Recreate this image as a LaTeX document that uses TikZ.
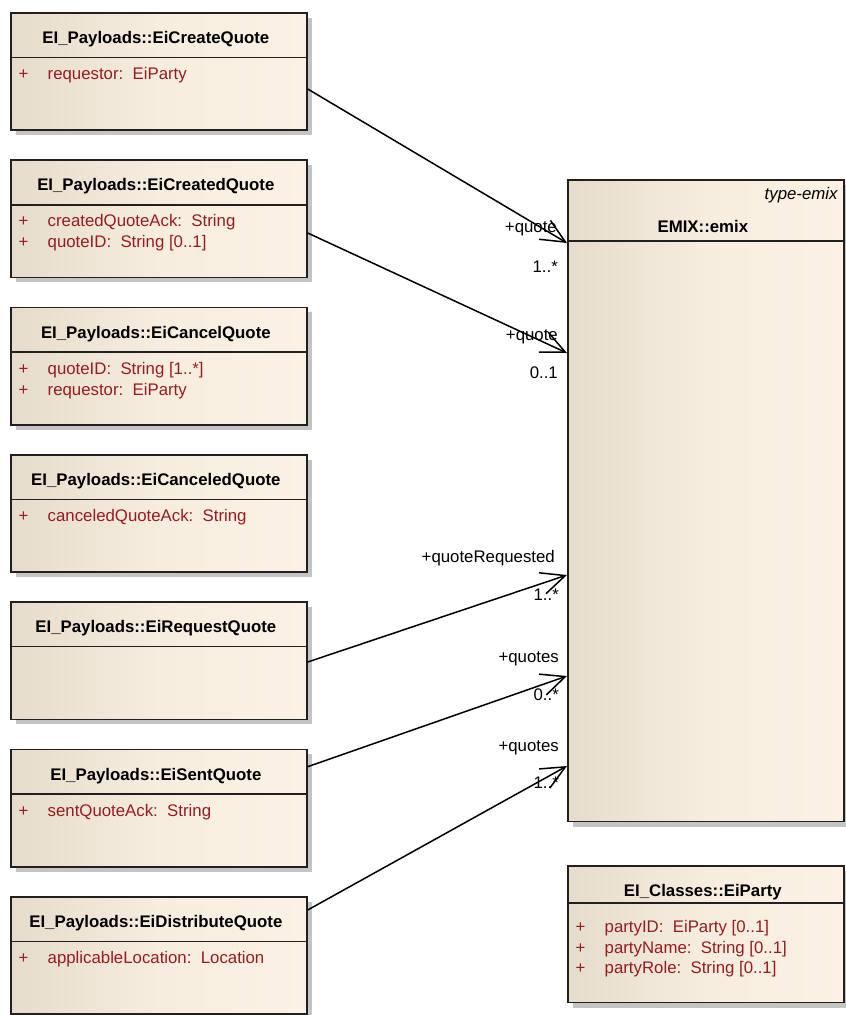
\documentclass[tikz,border=0pt]{standalone}
\usepackage{fontspec}
\setmainfont{Liberation Sans}
\usetikzlibrary{arrows.meta,shadows}

\definecolor{attrred}{HTML}{961C1F}
\definecolor{fillL}{HTML}{E6DCCB}
\definecolor{fillM}{HTML}{F7EDDF}
\definecolor{fillR}{HTML}{FBF1E4}
\definecolor{edgecol}{HTML}{202020}
\definecolor{shadowcol}{HTML}{C4C4C4}

% header rule and centred bold title of a class box
\newcommand\classhead[3]{%
  \draw[seprule] ([yshift=-#2pt]#1.north west) -- ([yshift=-#2pt]#1.north east);
  \node[titletext] (#1-title) at ([xshift=-3pt,yshift=-31.5pt]#1.north) {#3};}
% one attribute row: box name, row id, baseline offset from the top, text
\newcommand\classattr[4]{%
  \node[plusmark] (#1-p#2) at ([xshift=8.5pt,yshift=-#3pt]#1.north west) {+};
  \node[attrtext] (#1-a#2) at ([xshift=37.5pt,yshift=-#3pt]#1.north west) {#4};}

\begin{document}
\begin{tikzpicture}[x=1pt,y=-1pt,
  classbox/.style={rectangle, draw=edgecol, line width=1.7pt, inner sep=0pt,
    anchor=north west, left color=fillL, right color=fillR, middle color=fillM,
    drop shadow={shadow xshift=5pt, shadow yshift=-5pt, fill=shadowcol, opacity=1}},
  leftbox/.style={classbox, minimum width=296pt, minimum height=117.3pt},
  seprule/.style={draw=edgecol, line width=1.5pt},
  titletext/.style={font=\fontsize{16.8}{20}\selectfont\bfseries, anchor=base, inner sep=0pt},
  attrtext/.style={font=\fontsize{16.8}{20}\selectfont, text=attrred, anchor=base west, inner sep=0pt},
  plusmark/.style={attrtext},
  rolelabel/.style={font=\fontsize{16.8}{20}\selectfont, anchor=base east, inner sep=0pt},
  assoc/.style={draw=black, line width=1.5pt, -{Straight Barb[length=24pt,width=22pt]}}]

\useasboundingbox (0,0) rectangle (846,1015);

% payload classes on the left
\node[leftbox] (create) at (10,12) {};
\classhead{create}{45.5}{EI\_Payloads::EiCreateQuote}
\classattr{create}{1}{67.5}{requestor:\ \ EiParty}

\node[leftbox] (created) at (10,159.3) {};
\classhead{created}{45.5}{EI\_Payloads::EiCreatedQuote}
\classattr{created}{1}{67.5}{createdQuoteAck:\ \ String}
\classattr{created}{2}{88.5}{quoteID:\ \ String [0..1]}

\node[leftbox] (cancel) at (10,306.6) {};
\classhead{cancel}{45.5}{EI\_Payloads::EiCancelQuote}
\classattr{cancel}{1}{67.5}{quoteID:\ \ String [1..*]}
\classattr{cancel}{2}{88.5}{requestor:\ \ EiParty}

\node[leftbox] (canceled) at (10,453.9) {};
\classhead{canceled}{45.5}{EI\_Payloads::EiCanceledQuote}
\classattr{canceled}{1}{67.5}{canceledQuoteAck:\ \ String}

\node[leftbox] (request) at (10,601.2) {};
\classhead{request}{45.5}{EI\_Payloads::EiRequestQuote}

\node[leftbox] (sent) at (10,748.5) {};
\classhead{sent}{45.5}{EI\_Payloads::EiSentQuote}
\classattr{sent}{1}{67.5}{sentQuoteAck:\ \ String}

\node[leftbox] (distribute) at (10,895.8) {};
\classhead{distribute}{45.5}{EI\_Payloads::EiDistributeQuote}
\classattr{distribute}{1}{67.5}{applicableLocation:\ \ Location}

% EMIX root element
\node[classbox, minimum width=276pt, minimum height=641.7pt] (emix) at (567,179) {};
\draw[seprule] ([yshift=-62pt]emix.north west) -- ([yshift=-62pt]emix.north east);
\node[titletext] (emix-title) at ([xshift=-3pt,yshift=-53pt]emix.north) {EMIX::emix};
\node[font=\fontsize{16.8}{20}\selectfont\itshape, anchor=base east, inner sep=0pt]
  (emix-stereo) at ([xshift=-7pt,yshift=-20pt]emix.north east) {type-emix};

% party class
\node[classbox, minimum width=276pt, minimum height=136.7pt] (party) at (567,865) {};
\classhead{party}{38}{EI\_Classes::EiParty}
\classattr{party}{1}{67.5}{partyID:\ \ EiParty [0..1]}
\classattr{party}{2}{88}{partyName:\ \ String [0..1]}
\classattr{party}{3}{108.5}{partyRole:\ \ String [0..1]}

% associations into emix
\draw[assoc] ([yshift=-77pt]create.north east) -- ([yshift=-64pt]emix.north west);
\draw[assoc] ([yshift=-73.7pt]created.north east) -- ([yshift=-174pt]emix.north west);
\draw[assoc] ([yshift=-60.8pt]request.north east) -- ([yshift=-396pt]emix.north west);
\draw[assoc] ([yshift=-18.2pt]sent.north east) -- ([yshift=-497pt]emix.north west);
\draw[assoc] ([yshift=-14.2pt]distribute.north east) -- ([yshift=-587pt]emix.north west);

% role names and multiplicities
\node[rolelabel] (r1) at ([xshift=-10pt,yshift=-53pt]emix.north west) {+quote};
\node[rolelabel] (m1) at ([xshift=-9pt,yshift=-93pt]emix.north west) {1..*};
\node[rolelabel] (r2) at ([xshift=-9pt,yshift=-161pt]emix.north west) {+quote};
\node[rolelabel] (m2) at ([xshift=-9pt,yshift=-199pt]emix.north west) {0..1};
\node[rolelabel] (r3) at ([xshift=-12pt,yshift=-383pt]emix.north west) {+quoteRequested};
\node[rolelabel] (m3) at ([xshift=-8pt,yshift=-421pt]emix.north west) {1..*};
\node[rolelabel] (r4) at ([xshift=-8pt,yshift=-483pt]emix.north west) {+quotes};
\node[rolelabel] (m4) at ([xshift=-8pt,yshift=-521pt]emix.north west) {0..*};
\node[rolelabel] (r5) at ([xshift=-8pt,yshift=-572pt]emix.north west) {+quotes};
\node[rolelabel] (m5) at ([xshift=-8pt,yshift=-609pt]emix.north west) {1..*};
\end{tikzpicture}
\end{document}
